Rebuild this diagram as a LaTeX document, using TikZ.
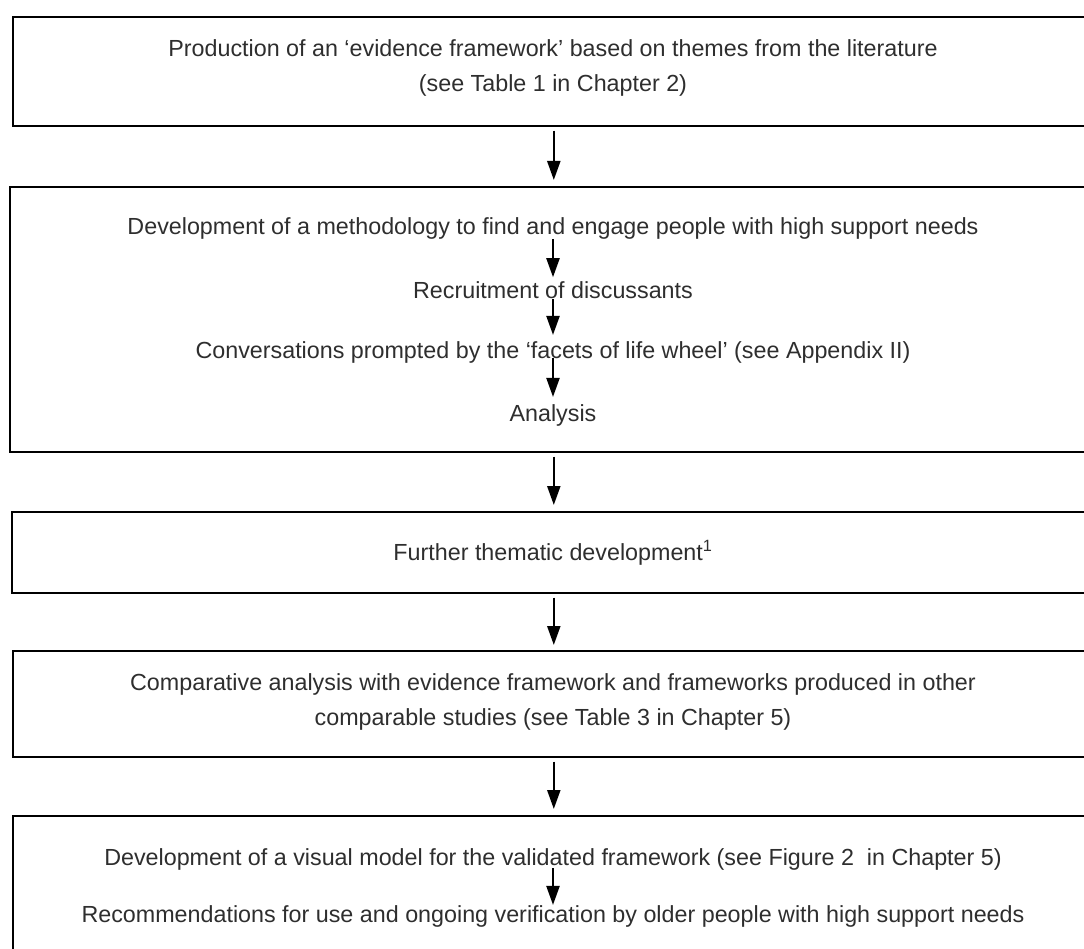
\documentclass[tikz,border=0pt]{standalone}
\usepackage{fontspec}
\setmainfont{Liberation Sans}
\usetikzlibrary{arrows.meta}
\begin{document}
\begin{tikzpicture}[x=1pt,y=-1pt,
  boxline/.style={draw=black, line width=1.6pt, inner sep=0pt, anchor=north west},
  txt/.style={font=\fontsize{23.3}{35}\selectfont, text=black!82, inner sep=0pt, align=center},
  flow/.style={line width=2.2pt, -{Triangle[length=19pt,width=13pt]}}]
\useasboundingbox (0,0) rectangle (1084,949);
\begin{scope}
\clip (0,0) rectangle (1084,949);
\node[boxline, minimum width=1082pt, minimum height=109pt] (b1) at (12,16) {};
\node[boxline, minimum width=1088pt, minimum height=265pt] (b2) at (9,186) {};
\node[boxline, minimum width=1084pt, minimum height=81pt] (b3) at (11,511) {};
\node[boxline, minimum width=1082pt, minimum height=106pt] (b4) at (12,650) {};
\node[boxline, minimum width=1082pt, minimum height=200pt] (b5) at (12,815) {};
\end{scope}

\node[txt] (t1) at (553,68) {Production of an ‘evidence framework’ based on themes from the literature\\(see Table 1 in Chapter 2)};
\node[txt] (t2a) at (553,228) {Development of a methodology to find and engage people with high support needs};
\node[txt] (t2b) at (553,290) {Recruitment of discussants};
\node[txt] (t2c) at (553,352) {Conversations prompted by the ‘facets of life wheel’ (see Appendix II)};
\node[txt] (t2d) at (553,415) {Analysis};
\node[txt] (t3) at (553,553) {Further thematic development\textsuperscript{1}};
\node[txt] (t4) at (553,702) {Comparative analysis with evidence framework and frameworks produced in other\\comparable studies (see Table 3 in Chapter 5)};
\node[txt] (t5a) at (553,859) {Development of a visual model for the validated framework (see Figure 2~ in Chapter 5)};
\node[txt] (t5b) at (553,916) {Recommendations for use and ongoing verification by older people with high support needs};

\draw[flow, shorten <=4pt, shorten >=6pt] (b1.south) -- (b2.north);
\draw[flow, shorten <=4pt, shorten >=6pt] (b2.south) -- (b3.north);
\draw[flow, shorten <=4pt, shorten >=5pt] (b3.south) -- (b4.north);
\draw[flow, shorten <=4pt, shorten >=6pt] (b4.south) -- (b5.north);

\draw[flow] (t2a.south) -- ([yshift=4pt]t2b.north);
\draw[flow] (t2b.south) -- ([yshift=6pt]t2c.north);
\draw[flow] ([yshift=5pt]t2c.south) -- ([yshift=7pt]t2d.north);
\draw[flow] ([yshift=2pt]t5a.south) -- (t5b.north);
\end{tikzpicture}
\end{document}
